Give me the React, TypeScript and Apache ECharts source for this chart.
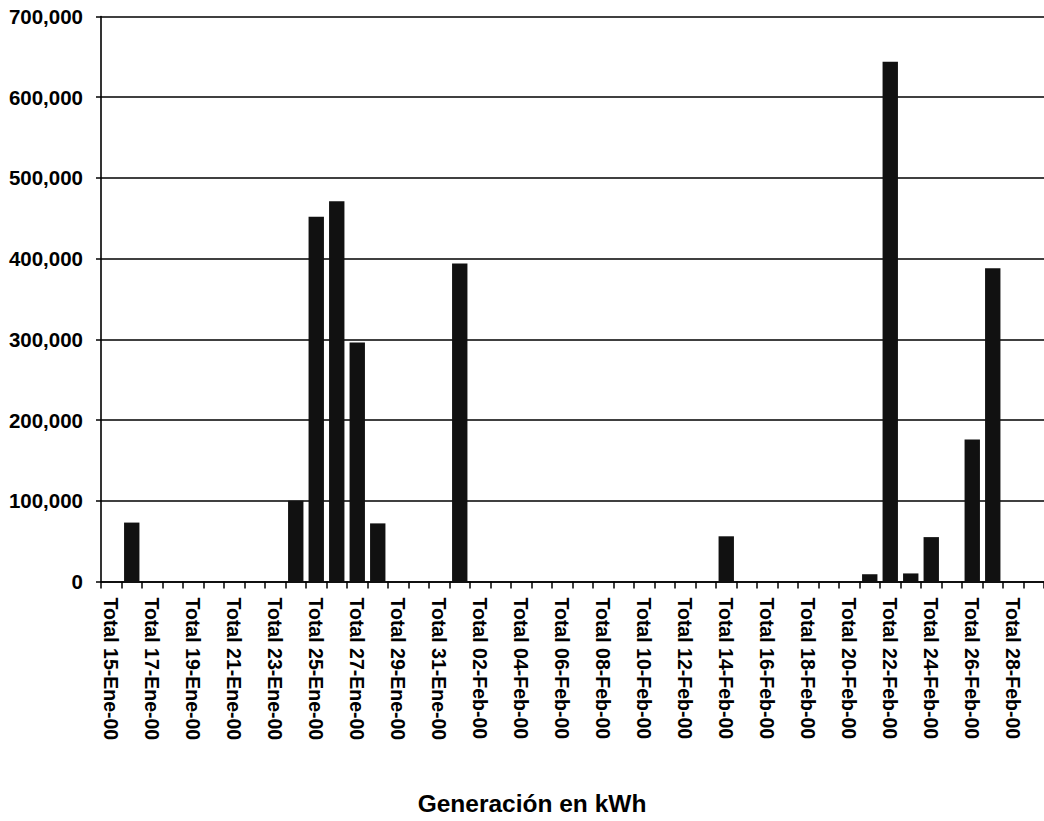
import React, { useEffect, useRef } from "react";
import * as echarts from "echarts";

const categories: string[] = [
  "Total 15-Ene-00", "Total 16-Ene-00", "Total 17-Ene-00", "Total 18-Ene-00",
  "Total 19-Ene-00", "Total 20-Ene-00", "Total 21-Ene-00", "Total 22-Ene-00",
  "Total 23-Ene-00", "Total 24-Ene-00", "Total 25-Ene-00", "Total 26-Ene-00",
  "Total 27-Ene-00", "Total 28-Ene-00", "Total 29-Ene-00", "Total 30-Ene-00",
  "Total 31-Ene-00", "Total 01-Feb-00", "Total 02-Feb-00", "Total 03-Feb-00",
  "Total 04-Feb-00", "Total 05-Feb-00", "Total 06-Feb-00", "Total 07-Feb-00",
  "Total 08-Feb-00", "Total 09-Feb-00", "Total 10-Feb-00", "Total 11-Feb-00",
  "Total 12-Feb-00", "Total 13-Feb-00", "Total 14-Feb-00", "Total 15-Feb-00",
  "Total 16-Feb-00", "Total 17-Feb-00", "Total 18-Feb-00", "Total 19-Feb-00",
  "Total 20-Feb-00", "Total 21-Feb-00", "Total 22-Feb-00", "Total 23-Feb-00",
  "Total 24-Feb-00", "Total 25-Feb-00", "Total 26-Feb-00", "Total 27-Feb-00",
  "Total 28-Feb-00", "Total 29-Feb-00",
];

const generacion: number[] = [
  0, 73000, 0, 0, 0, 0, 0, 0,
  0, 100000, 452000, 471000, 296000, 72000, 0, 0,
  0, 394000, 0, 0, 0, 0, 0, 0,
  0, 0, 0, 0, 0, 0, 56000, 0,
  0, 0, 0, 0, 0, 9000, 644000, 10000,
  55000, 0, 176000, 388000, 0, 0,
];

const yMin = 0;
const yMax = 700000;
const yStep = 100000;
const axisTitle = "Generación en kWh";

const FONT = "'Liberation Sans', Arial, sans-serif";

export default function App() {
  const ref = useRef<HTMLDivElement>(null);
  useEffect(() => {
    if (!ref.current) return;
    const chart = echarts.init(ref.current, undefined, { renderer: "svg" });
    chart.setOption({
      animation: false,
      backgroundColor: "#ffffff",
      grid: { left: 101, right: -8, top: 16.5, bottom: 239.5, containLabel: false },
      title: {
        text: axisTitle,
        left: 527,
        top: 786,
        textAlign: "center",
        textStyle: { fontFamily: FONT, fontWeight: "bold", fontSize: 24.5, color: "#000" },
      },
      xAxis: {
        type: "category",
        data: categories,
        boundaryGap: true,
        axisLine: { show: true, lineStyle: { color: "#000", width: 1.6 } },
        axisTick: { show: true, interval: 0, alignWithLabel: false, length: 7, lineStyle: { color: "#000", width: 1.5 } },
        axisLabel: {
          interval: 1,
          rotate: -90,
          margin: 16,
          fontFamily: FONT,
          fontWeight: "bold",
          fontSize: 19.5,
          color: "#000",
        },
        splitLine: { show: false },
      },
      yAxis: {
        type: "value",
        min: yMin,
        max: yMax,
        interval: yStep,
        axisLine: { show: true, lineStyle: { color: "#000", width: 1.6 } },
        axisTick: { show: true, length: 5, lineStyle: { color: "#000", width: 1.5 } },
        axisLabel: {
          margin: 18,
          fontFamily: FONT,
          fontWeight: "bold",
          fontSize: 20.5,
          color: "#000",
          formatter: (v: number) => v.toLocaleString("en-US"),
        },
        splitLine: { show: true, lineStyle: { color: "#000", width: 1.6 } },
      },
      series: [
        {
          type: "bar",
          data: generacion,
          barCategoryGap: "25%",
          itemStyle: { color: "#111111" },
        },
      ],
    });
    return () => chart.dispose();
  }, []);
  return (
    <div
      ref={ref}
      style={{ position: "fixed", left: 0, top: 0, width: 1044, height: 821, overflow: "hidden" }}
    />
  );
}
